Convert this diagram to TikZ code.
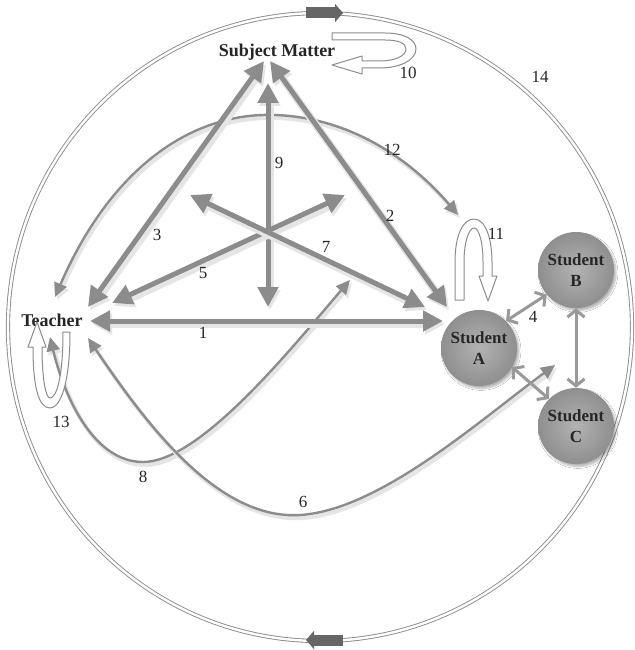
\documentclass[tikz,border=0pt]{standalone}
\usepackage{fontspec}
\setmainfont{Liberation Serif}
\usetikzlibrary{arrows.meta,shadows.blur}

\tikzset{
  actor/.style={font=\fontsize{18}{19}\selectfont\bfseries, text=black!85, inner sep=1pt},
  student/.style={circle, minimum size=76pt, inner sep=0pt, align=center,
    inner color=black!30, outer color=black!44,
    blur shadow={shadow xshift=2pt, shadow yshift=-2.5pt, shadow blur steps=8, shadow opacity=30},
    font=\fontsize{17}{21}\selectfont\bfseries, text=black!85},
  num/.style={font=\fontsize{17}{17}\selectfont, text=black!85, inner sep=0pt},
  soft/.style={preaction={draw=black!10, line width=#1, transform canvas={shift={(2pt,-3pt)}}}},
  bigarrow/.style={draw=black!45, line width=5pt, soft=8pt,
    {Triangle[length=20pt,width=20pt]}-{Triangle[length=20pt,width=20pt]}},
  thinarrow/.style={draw=black!45, line width=2.4pt, soft=4pt,
    {Triangle[length=14pt,width=13pt]}-{Triangle[length=14pt,width=13pt]}},
  pairarrow/.style={draw=black!40, line width=3pt,
    {Straight Barb[length=7pt,width=17pt]}-{Straight Barb[length=7pt,width=17pt]}},
  hollow/.style={draw=black!45, fill=white, line width=1pt, line join=round},
  ring/.style={draw=black!45, line width=0.9pt, double=white, double distance=2.4pt},
  ringarrow/.style={draw=black!60, line width=11pt, -{Triangle[length=8pt,width=18pt]}}
}

\begin{document}
\begin{tikzpicture}[x=1pt,y=-1pt]
\fill[white] (0,0) rectangle (634,650);
\useasboundingbox (0,0) rectangle (634,650);

% outer cycle (14)
\draw[ring] (320,327) ellipse [x radius=312, y radius=314];
\draw[ringarrow] (306,13) -- (343,13);
\draw[ringarrow] (343,640) -- (306,640);

% actors
\node[actor] (sm) at (277,52) {Subject Matter};
\node[actor] (teacher) at (52,320) {Teacher};
\node[student] (stuA) at (479,348) {Student\\A};
\node[student] (stuB) at (576,270) {Student\\B};
\node[student] (stuC) at (576,426) {Student\\C};

% arrow ends
\coordinate (apexL) at (264,61);
\coordinate (apexR) at (270,61);
\coordinate (hubN) at (268,83);
\coordinate (hubS) at (268,307);
\coordinate (tL) at (88,307);
\coordinate (t5) at (112,303);
\coordinate (tE) at (90,321);
\coordinate (aE) at (443,321);
\coordinate (a2) at (447,307);
\coordinate (a7) at (425,307);
\coordinate (nw7) at (190,195);
\coordinate (ne5) at (345,195);
\coordinate (t12) at (55,297);
\coordinate (e12) at (458,215);
\coordinate (t8) at (50,337);
\coordinate (e8) at (350,280);
\coordinate (t6) at (88,338);
\coordinate (e6) at (555,365);

% curved links (6, 8, 12)
\draw[thinarrow] (t12) .. controls (110,170) and (190,112) .. (275,115)
  .. controls (360,118) and (420,170) .. (e12);
\draw[thinarrow] (t8) .. controls (65,400) and (95,462) .. (143,462)
  .. controls (200,462) and (290,350) .. (e8);
\draw[thinarrow] (t6) .. controls (150,430) and (220,520) .. (300,515)
  .. controls (380,510) and (480,420) .. (e6);

% triangle and star
\draw[bigarrow] (apexL) -- (tL);
\draw[bigarrow] (apexR) -- (a2);
\draw[bigarrow] (tE) -- (aE);
\draw[bigarrow] (hubN) -- (hubS);
\draw[bigarrow] (ne5) -- (t5);
\draw[bigarrow] (nw7) -- (a7);

% between students
\draw[pairarrow] (stuA.45) -- (stuB.220);
\draw[pairarrow] (stuB.south) -- (stuC.north);
\draw[pairarrow] (stuA.-30) -- (stuC.135);

% self loops (10, 11, 13)
\draw[hollow] (332,33) -- (385,33) .. controls (405,33) and (416,40) .. (416,49)
  .. controls (416,60) and (400,68) .. (380,68) -- (362,68) -- (362,74) -- (332,65)
  -- (362,56) -- (362,61) -- (380,61) .. controls (395,61) and (406,56) .. (406,49)
  .. controls (406,43) and (398,40) .. (385,40) -- (332,40) -- cycle;
\draw[hollow] (455,300) -- (455,262) .. controls (455,235) and (463,219) .. (474,219)
  .. controls (486,219) and (492,240) .. (492,262) -- (492,276) -- (497,276) -- (488,301)
  -- (479,276) -- (483,276) -- (483,262) .. controls (483,242) and (479,228) .. (474,228)
  .. controls (469,228) and (464,242) .. (464,262) -- (464,300) -- cycle;
\draw[hollow] (63,332) -- (70,332) .. controls (70,385) and (60,408) .. (50,408)
  .. controls (38,408) and (33,385) .. (33,347) -- (28,347) -- (37,322) -- (46,347)
  -- (42,347) .. controls (42,380) and (46,398) .. (50,398)
  .. controls (56,398) and (63,380) .. (63,332) -- cycle;

% labels
\node[num] (n1) at (203,333) {1};
\node[num] (n2) at (390,216) {2};
\node[num] (n3) at (157,235) {3};
\node[num] (n4) at (533,317) {4};
\node[num] (n5) at (203,273) {5};
\node[num] (n6) at (303,502) {6};
\node[num] (n7) at (326,247) {7};
\node[num] (n8) at (143,477) {8};
\node[num] (n9) at (279,163) {9};
\node[num] (n10) at (408,73) {10};
\node[num] (n11) at (496,234) {11};
\node[num] (n12) at (392,150) {12};
\node[num] (n13) at (61,422) {13};
\node[num] (n14) at (540,77) {14};
\end{tikzpicture}
\end{document}
